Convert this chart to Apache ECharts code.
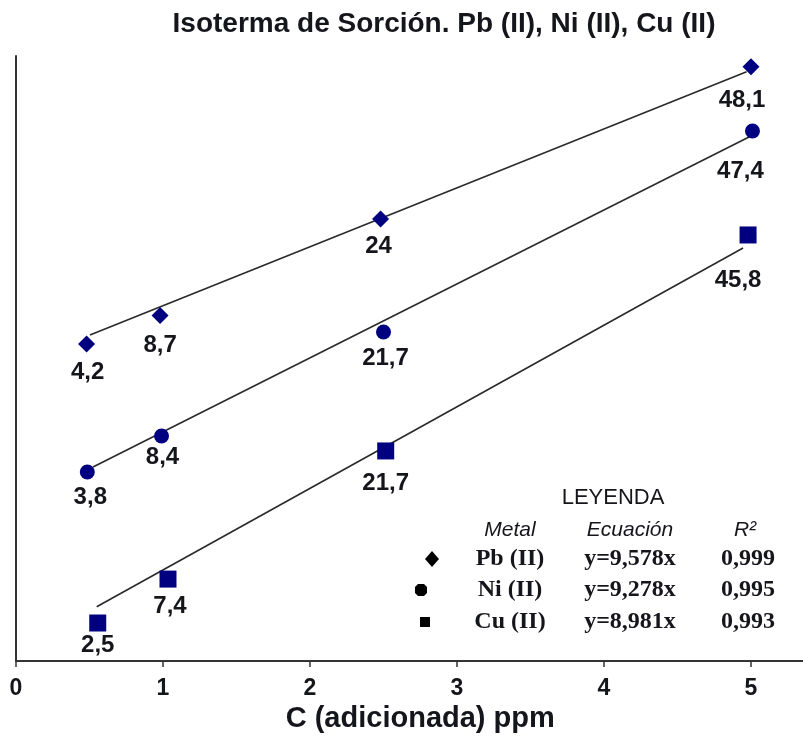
<!DOCTYPE html>
<html>
<head>
<meta charset="utf-8">
<script src="https://cdn.jsdelivr.net/npm/echarts@6/dist/echarts.min.js"></script>
<style>
html,body{margin:0;padding:0;background:#fff;}
#chart{width:803px;height:738px;}
</style>
</head>
<body>
<div id="chart"></div>
<script>
// ---- data ----
const xTicks = [0, 1, 2, 3, 4, 5];

const xPb = [0.48, 0.98, 2.48, 5.0];
const yPb = [4.2, 8.7, 24, 48.1];
const xNi = [0.485, 0.99, 2.5, 5.01];
const yNi = [3.8, 8.4, 21.7, 47.4];
const xCu = [0.556, 1.034, 2.515, 4.98];
const yCu = [2.5, 7.4, 21.7, 45.8];

const fitXPb = [0.503, 4.97];
const fitYPb = [5.62, 47.3];
const fitXNi = [0.524, 4.99];
const fitYNi = [4.44, 46.67];
const fitXCu = [0.549, 4.946];
const fitYCu = [4.32, 44.35];

const legendMetals = ['Pb (II)', 'Ni (II)', 'Cu (II)'];
const legendEquations = ['y=9,578x', 'y=9,278x', 'y=8,981x'];
const legendR2 = ['0,999', '0,995', '0,993'];

// ---- layout / style (label shift relative to default "bottom" placement) ----
const labelOffPb = [[1, 8], [0, 9], [-2, 7], [-9, 13]];
const labelOffNi = [[3, 6], [1, 2], [2, 7], [-12, 21]];
const labelOffCu = [[0, 2], [2, 7], [0, 12], [-10, 25]];

const navy = '#000080';
const txt = '#15151c';
const sans = '"Liberation Sans", Arial, sans-serif';
const serif = '"Liberation Serif", "Times New Roman", serif';

function pts(xs, ys, offs) {
  return ys.map((v, i) => ({
    value: [xs[i], v],
    label: offs ? { offset: offs[i] } : undefined
  }));
}

const labelStyle = {
  show: true,
  position: 'bottom',
  distance: 0,
  formatter: p => String(p.value[1]).replace('.', ','),
  fontFamily: sans,
  fontWeight: 'bold',
  fontSize: 24,
  lineHeight: 24,
  color: txt,
  textBorderWidth: 0
};

function scatter(name, xs, ys, offs, symbol, size, yi) {
  return {
    name, type: 'scatter', xAxisIndex: 0, yAxisIndex: yi,
    symbol, symbolSize: size,
    itemStyle: { color: navy, opacity: 1 },
    label: labelStyle,
    data: pts(xs, ys, offs), z: 5
  };
}
function fit(xs, ys, yi) {
  return {
    type: 'line', xAxisIndex: 0, yAxisIndex: yi,
    symbol: 'none', silent: true,
    lineStyle: { color: '#2a2a2a', width: 1.6 },
    data: pts(xs, ys), z: 3
  };
}

const graphics = [
  { type: 'text', x: 444, y: 24, style: { text: 'Isoterma de Sorción. Pb (II), Ni (II), Cu (II)', fill: txt,
      fontFamily: sans, fontWeight: 'bold', fontSize: 28, align: 'center', verticalAlign: 'middle' } },
  { type: 'text', x: 613, y: 498, style: { text: 'LEYENDA', fill: txt, fontFamily: sans, fontSize: 22,
      align: 'center', verticalAlign: 'middle' } },
  { type: 'text', x: 510, y: 530, style: { text: 'Metal', fill: txt, fontFamily: sans, fontStyle: 'italic', fontSize: 21,
      align: 'center', verticalAlign: 'middle' } },
  { type: 'text', x: 630, y: 530, style: { text: 'Ecuación', fill: txt, fontFamily: sans, fontStyle: 'italic', fontSize: 21,
      align: 'center', verticalAlign: 'middle' } },
  { type: 'text', x: 745, y: 530, style: { text: 'R²', fill: txt, fontFamily: sans, fontStyle: 'italic', fontSize: 21,
      align: 'center', verticalAlign: 'middle' } },
  { type: 'polygon', shape: { points: [[432, 551], [439, 559], [432, 567], [425, 559]] }, style: { fill: '#000' } },
  { type: 'polygon', shape: { points: [[418, 584], [424, 584], [427, 587], [427, 593], [424, 596], [418, 596], [415, 593], [415, 587]] }, style: { fill: '#000' } },
  { type: 'rect', shape: { x: 420, y: 617, width: 10, height: 10 }, style: { fill: '#000' } }
];
const rowY = [559, 590, 622];
legendMetals.forEach((m, i) => {
  graphics.push({ type: 'text', x: 510, y: rowY[i], style: { text: m, fill: txt, fontFamily: serif, fontWeight: 'bold',
    fontSize: 24, align: 'center', verticalAlign: 'middle' } });
  graphics.push({ type: 'text', x: 630, y: rowY[i], style: { text: legendEquations[i], fill: txt, fontFamily: serif, fontWeight: 'bold',
    fontSize: 24, align: 'center', verticalAlign: 'middle' } });
  graphics.push({ type: 'text', x: 748, y: rowY[i], style: { text: legendR2[i], fill: txt, fontFamily: serif, fontWeight: 'bold',
    fontSize: 24, align: 'center', verticalAlign: 'middle' } });
});

const chart = echarts.init(document.getElementById('chart'), null, { renderer: 'canvas' });
chart.setOption({
  backgroundColor: '#fff',
  animation: false,
  grid: { left: 16, top: 56, height: 605, width: 808.5, containLabel: false, outerBoundsMode: 'none' },
  xAxis: {
    type: 'value', min: 0, max: 5.5, interval: 1,
    name: 'C (adicionada) ppm', nameLocation: 'middle', nameGap: 40,
    nameTextStyle: { fontFamily: sans, fontWeight: 'bold', fontSize: 29, color: txt },
    axisLine: { onZero: false, lineStyle: { color: '#333', width: 2 } },
    axisTick: { show: true, length: 6, lineStyle: { color: '#333', width: 1.5 } },
    axisLabel: { margin: 16, fontFamily: sans, fontWeight: 'bold', fontSize: 23, color: txt,
      formatter: v => xTicks.includes(v) ? String(v) : '' },
    splitLine: { show: false }
  },
  yAxis: [
    { type: 'value', min: -45.99, max: 49.79, position: 'left',
      axisLine: { show: true, onZero: false, lineStyle: { color: '#333', width: 2 } },
      axisTick: { show: false }, axisLabel: { show: false }, splitLine: { show: false } },
    { type: 'value', min: -20.37, max: 56.99, show: false, splitLine: { show: false } },
    { type: 'value', min: -1.74, max: 65.77, show: false, splitLine: { show: false } }
  ],
  series: [
    fit(fitXPb, fitYPb, 0),
    fit(fitXNi, fitYNi, 1),
    fit(fitXCu, fitYCu, 2),
    scatter('Pb (II)', xPb, yPb, labelOffPb, 'diamond', [17, 17], 0),
    scatter('Ni (II)', xNi, yNi, labelOffNi, 'circle', 15, 1),
    scatter('Cu (II)', xCu, yCu, labelOffCu, 'rect', 17, 2)
  ],
  graphic: graphics
});
</script>
</body>
</html>
